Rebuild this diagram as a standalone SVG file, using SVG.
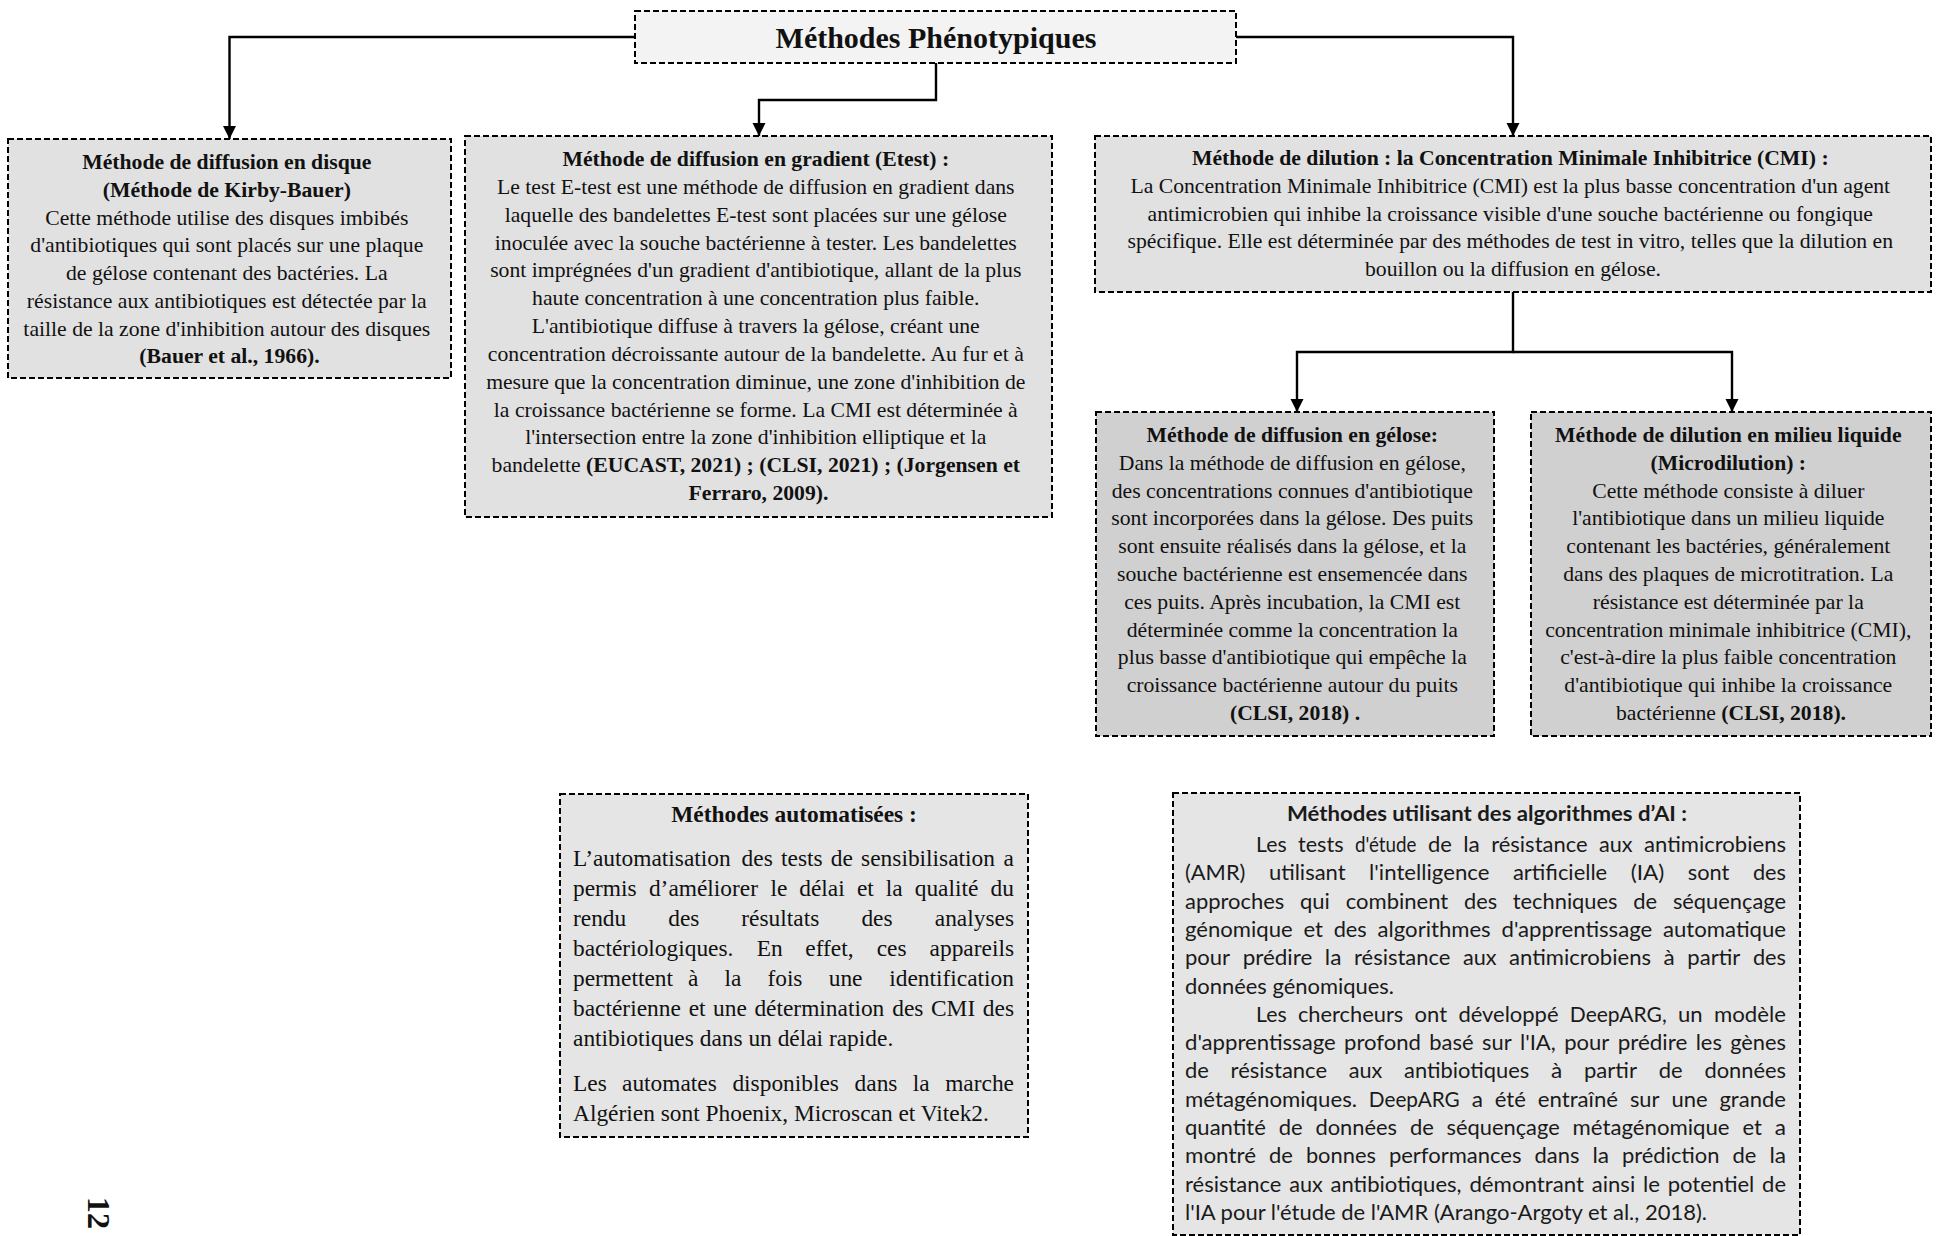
<svg xmlns="http://www.w3.org/2000/svg" width="1938" height="1236" viewBox="0 0 1938 1236">
  <defs>
    <marker id="arrow" markerUnits="userSpaceOnUse" markerWidth="14" markerHeight="14" refX="13" refY="7" orient="auto">
      <path d="M0,0.5 L13,7 L0,13.5 z" fill="#000"/>
    </marker>
    <style>
      .box { stroke: #000; stroke-width: 2; stroke-dasharray: 6 3; }
      .t0 { fill: #f3f3f3; }
      .t1 { fill: #e1e1e1; }
      .t2 { fill: #d0d0d0; }
      .t3 { fill: #e5e5e5; }
      .link { fill: none; stroke: #000; stroke-width: 2.4; }
      .serif { font-family: "Liberation Serif", "Times New Roman", serif; font-size: 21.7px; fill: #111; }
      .auto { font-size: 23.4px; }
      .sans { font-family: Lato, "Open Sans", sans-serif; font-size: 21.2px; fill: #1a1a1a; }
      .b { font-weight: bold; }
      .mid { text-anchor: middle; }
      .end { text-anchor: end; }
    </style>
  </defs>

  <rect width="1938" height="1236" fill="#fff"/>

  <!-- connectors -->
  <g id="connectors">
    <path class="link" d="M634,37 H229.5 V139" marker-end="url(#arrow)"/>
    <path class="link" d="M936,63 V100 H759 V136" marker-end="url(#arrow)"/>
    <path class="link" d="M1236,37 H1513 V136" marker-end="url(#arrow)"/>
    <path class="link" d="M1513,292 V352 H1297 V412" marker-end="url(#arrow)"/>
    <path class="link" d="M1513,352 H1732 V412" marker-end="url(#arrow)"/>
  </g>

  <!-- root -->
  <g id="root">
    <rect class="box t0" x="635" y="11" width="601" height="52"/>
    <text class="serif b mid" x="936" y="48" style="font-size:30px">Méthodes Phénotypiques</text>
  </g>

  <!-- disk diffusion -->
  <g id="disque">
    <rect class="box t1" x="8" y="139" width="443" height="239"/>
    <text class="serif mid" x="229.5">
      <tspan class="b" x="229.5" y="169">Méthode de diffusion en disque</tspan>
      <tspan class="b" x="229.5" y="196.8">(Méthode de Kirby-Bauer)</tspan>
      <tspan x="229.5" y="224.6">Cette méthode utilise des disques imbibés</tspan>
      <tspan x="229.5" y="252.4">d'antibiotiques qui sont placés sur une plaque</tspan>
      <tspan x="229.5" y="280.2">de gélose contenant des bactéries. La</tspan>
      <tspan x="229.5" y="308">résistance aux antibiotiques est détectée par la</tspan>
      <tspan x="229.5" y="335.6">taille de la zone d'inhibition autour des disques</tspan>
      <tspan class="b" x="229.5" y="363.2">(Bauer et al., 1966).</tspan>
    </text>
  </g>

  <!-- gradient diffusion -->
  <g id="etest">
    <rect class="box t1" x="465" y="136" width="587" height="381"/>
    <text class="serif mid">
      <tspan class="b" x="758.5" y="166">Méthode de diffusion en gradient (Etest) :</tspan>
      <tspan x="758.5" y="193.8">Le test E-test est une méthode de diffusion en gradient dans</tspan>
      <tspan x="758.5" y="221.7">laquelle des bandelettes E-test sont placées sur une gélose</tspan>
      <tspan x="758.5" y="249.5">inoculée avec la souche bactérienne à tester. Les bandelettes</tspan>
      <tspan x="758.5" y="277.3">sont imprégnées d'un gradient d'antibiotique, allant de la plus</tspan>
      <tspan x="758.5" y="305.2">haute concentration à une concentration plus faible.</tspan>
      <tspan x="758.5" y="333">L'antibiotique diffuse à travers la gélose, créant une</tspan>
      <tspan x="758.5" y="360.8">concentration décroissante autour de la bandelette. Au fur et à</tspan>
      <tspan x="758.5" y="388.6">mesure que la concentration diminue, une zone d'inhibition de</tspan>
      <tspan x="758.5" y="416.5">la croissance bactérienne se forme. La CMI est déterminée à</tspan>
      <tspan x="758.5" y="444.3">l'intersection entre la zone d'inhibition elliptique et la</tspan>
      <tspan x="758.5" y="472.1">bandelette <tspan class="b">(EUCAST, 2021) ; (CLSI, 2021) ; (Jorgensen et</tspan></tspan>
      <tspan class="b" x="758.5" y="500">Ferraro, 2009).</tspan>
    </text>
  </g>

  <!-- dilution / CMI -->
  <g id="cmi">
    <rect class="box t1" x="1095" y="136" width="836" height="156"/>
    <text class="serif mid">
      <tspan class="b" x="1513" y="165">Méthode de dilution : la Concentration Minimale Inhibitrice (CMI) :</tspan>
      <tspan x="1513" y="192.8">La Concentration Minimale Inhibitrice (CMI) est la plus basse concentration d'un agent</tspan>
      <tspan x="1513" y="220.6">antimicrobien qui inhibe la croissance visible d'une souche bactérienne ou fongique</tspan>
      <tspan x="1513" y="248.4">spécifique. Elle est déterminée par des méthodes de test in vitro, telles que la dilution en</tspan>
      <tspan x="1513" y="276.2">bouillon ou la diffusion en gélose.</tspan>
    </text>
  </g>

  <!-- agar diffusion -->
  <g id="gelose">
    <rect class="box t2" x="1096" y="412" width="398" height="324"/>
    <text class="serif mid">
      <tspan class="b" x="1295" y="442">Méthode de diffusion en gélose:</tspan>
      <tspan x="1295" y="469.8">Dans la méthode de diffusion en gélose,</tspan>
      <tspan x="1295" y="497.6">des concentrations connues d'antibiotique</tspan>
      <tspan x="1295" y="525.4">sont incorporées dans la gélose. Des puits</tspan>
      <tspan x="1295" y="553.2">sont ensuite réalisés dans la gélose, et la</tspan>
      <tspan x="1295" y="581">souche bactérienne est ensemencée dans</tspan>
      <tspan x="1295" y="608.8">ces puits. Après incubation, la CMI est</tspan>
      <tspan x="1295" y="636.6">déterminée comme la concentration la</tspan>
      <tspan x="1295" y="664.4">plus basse d'antibiotique qui empêche la</tspan>
      <tspan x="1295" y="692.2">croissance bactérienne autour du puits</tspan>
      <tspan class="b" x="1295" y="720">(CLSI, 2018) .</tspan>
    </text>
  </g>

  <!-- broth microdilution -->
  <g id="microdilution">
    <rect class="box t2" x="1531" y="412" width="400" height="324"/>
    <text class="serif mid">
      <tspan class="b" x="1731" y="442">Méthode de dilution en milieu liquide</tspan>
      <tspan class="b" x="1731" y="469.8">(Microdilution) :</tspan>
      <tspan x="1731" y="497.6">Cette méthode consiste à diluer</tspan>
      <tspan x="1731" y="525.4">l'antibiotique dans un milieu liquide</tspan>
      <tspan x="1731" y="553.2">contenant les bactéries, généralement</tspan>
      <tspan x="1731" y="581">dans des plaques de microtitration. La</tspan>
      <tspan x="1731" y="608.8">résistance est déterminée par la</tspan>
      <tspan x="1731" y="636.6">concentration minimale inhibitrice (CMI),</tspan>
      <tspan x="1731" y="664.4">c'est-à-dire la plus faible concentration</tspan>
      <tspan x="1731" y="692.2">d'antibiotique qui inhibe la croissance</tspan>
      <tspan x="1731" y="720">bactérienne <tspan class="b">(CLSI, 2018).</tspan></tspan>
    </text>
  </g>

  <!-- automated methods (justified paragraph, words placed one by one) -->
  <g id="automatisees">
    <rect class="box t3" x="560" y="794" width="468" height="343"/>
    <text class="serif auto b mid" x="794" y="822">Méthodes automatisées :</text>
    <g class="serif auto">
      <text y="866"><tspan x="573">L’automatisation</tspan><tspan x="741.6">des</tspan><tspan x="781">tests</tspan><tspan x="830.8">de</tspan><tspan x="861.1">sensibilisation</tspan><tspan class="end" x="1014">a</tspan></text>
      <text y="896"><tspan x="573">permis</tspan><tspan x="648.9">d’améliorer</tspan><tspan x="770.4">le</tspan><tspan x="799.3">délai</tspan><tspan x="856.9">et</tspan><tspan x="885.8">la</tspan><tspan x="914.7">qualité</tspan><tspan class="end" x="1014">du</tspan></text>
      <text y="926"><tspan x="573">rendu</tspan><tspan x="668.3">des</tspan><tspan x="741.3">résultats</tspan><tspan x="861.4">des</tspan><tspan class="end" x="1014">analyses</tspan></text>
      <text y="956"><tspan x="573">bactériologiques.</tspan><tspan x="756.7">En</tspan><tspan x="805.3">effet,</tspan><tspan x="876.7">ces</tspan><tspan class="end" x="1014">appareils</tspan></text>
      <text y="986"><tspan x="573">permettent</tspan><tspan x="687.9">à</tspan><tspan x="724.4">la</tspan><tspan x="767.4">fois</tspan><tspan x="828.7">une</tspan><tspan class="end" x="1014">identification</tspan></text>
      <text y="1016"><tspan x="573">bactérienne</tspan><tspan x="688.7">et</tspan><tspan x="713.1">une</tspan><tspan x="754.4">détermination</tspan><tspan x="892.3">des</tspan><tspan x="931">CMI</tspan><tspan class="end" x="1014">des</tspan></text>
      <text x="573" y="1046">antibiotiques dans un délai rapide.</text>
      <text y="1091"><tspan x="573">Les</tspan><tspan x="622">automates</tspan><tspan x="732.4">disponibles</tspan><tspan x="854.6">dans</tspan><tspan x="912.8">la</tspan><tspan class="end" x="1014">marche</tspan></text>
      <text x="573" y="1121">Algérien sont Phoenix, Microscan et Vitek2.</text>
    </g>
  </g>

  <!-- AI-based methods (justified paragraph; each word is given its set width) -->
  <g id="algorithmes-ia">
    <rect class="box t3" x="1173" y="793" width="627" height="442"/>
    <text class="sans b mid" x="1487" y="821" textLength="400" lengthAdjust="spacingAndGlyphs">Méthodes utilisant des algorithmes d’AI :</text>
    <g class="sans" lengthAdjust="spacingAndGlyphs">
      <text y="852"><tspan x="1256" textLength="30.6" lengthAdjust="spacingAndGlyphs">Les</tspan><tspan x="1298" textLength="45.6" lengthAdjust="spacingAndGlyphs">tests</tspan><tspan x="1355" textLength="61.5" lengthAdjust="spacingAndGlyphs">d'étude</tspan><tspan x="1427.9" textLength="23.9" lengthAdjust="spacingAndGlyphs">de</tspan><tspan x="1463.2" textLength="16.6" lengthAdjust="spacingAndGlyphs">la</tspan><tspan x="1491.2" textLength="96.4" lengthAdjust="spacingAndGlyphs">résistance</tspan><tspan x="1599" textLength="33.6" lengthAdjust="spacingAndGlyphs">aux</tspan><tspan x="1644.1" textLength="141.9" lengthAdjust="spacingAndGlyphs">antimicrobiens</tspan></text>
      <text y="880.3"><tspan x="1185" textLength="60.4" lengthAdjust="spacingAndGlyphs">(AMR)</tspan><tspan x="1268.9" textLength="76.7" lengthAdjust="spacingAndGlyphs">utilisant</tspan><tspan x="1369.1" textLength="120.3" lengthAdjust="spacingAndGlyphs">l'intelligence</tspan><tspan x="1512.9" textLength="94.3" lengthAdjust="spacingAndGlyphs">artificielle</tspan><tspan x="1630.7" textLength="33.6" lengthAdjust="spacingAndGlyphs">(IA)</tspan><tspan x="1687.8" textLength="41.6" lengthAdjust="spacingAndGlyphs">sont</tspan><tspan x="1752.9" textLength="33.1" lengthAdjust="spacingAndGlyphs">des</tspan></text>
      <text y="908.6"><tspan x="1185" textLength="99.3" lengthAdjust="spacingAndGlyphs">approches</tspan><tspan x="1300" textLength="29.9" lengthAdjust="spacingAndGlyphs">qui</tspan><tspan x="1345.7" textLength="102.6" lengthAdjust="spacingAndGlyphs">combinent</tspan><tspan x="1464" textLength="33.1" lengthAdjust="spacingAndGlyphs">des</tspan><tspan x="1512.8" textLength="104.7" lengthAdjust="spacingAndGlyphs">techniques</tspan><tspan x="1633.3" textLength="23.9" lengthAdjust="spacingAndGlyphs">de</tspan><tspan x="1672.9" textLength="113.1" lengthAdjust="spacingAndGlyphs">séquençage</tspan></text>
      <text y="936.9"><tspan x="1185" textLength="107.6" lengthAdjust="spacingAndGlyphs">génomique</tspan><tspan x="1303.4" textLength="19.5" lengthAdjust="spacingAndGlyphs">et</tspan><tspan x="1333.7" textLength="33.1" lengthAdjust="spacingAndGlyphs">des</tspan><tspan x="1377.6" textLength="113.1" lengthAdjust="spacingAndGlyphs">algorithmes</tspan><tspan x="1501.5" textLength="150.7" lengthAdjust="spacingAndGlyphs">d'apprentissage</tspan><tspan x="1663" textLength="123" lengthAdjust="spacingAndGlyphs">automatique</tspan></text>
      <text y="965.2"><tspan x="1185" textLength="45.1" lengthAdjust="spacingAndGlyphs">pour</tspan><tspan x="1242.7" textLength="69.6" lengthAdjust="spacingAndGlyphs">prédire</tspan><tspan x="1324.8" textLength="16.6" lengthAdjust="spacingAndGlyphs">la</tspan><tspan x="1354" textLength="96.4" lengthAdjust="spacingAndGlyphs">résistance</tspan><tspan x="1462.9" textLength="33.6" lengthAdjust="spacingAndGlyphs">aux</tspan><tspan x="1509.1" textLength="141.9" lengthAdjust="spacingAndGlyphs">antimicrobiens</tspan><tspan x="1663.6" textLength="11.2" lengthAdjust="spacingAndGlyphs">à</tspan><tspan x="1687.3" textLength="53" lengthAdjust="spacingAndGlyphs">partir</tspan><tspan x="1752.9" textLength="33.1" lengthAdjust="spacingAndGlyphs">des</tspan></text>
      <text x="1185" y="993.5" textLength="209" lengthAdjust="spacingAndGlyphs">données génomiques.</text>
      <text y="1021.8"><tspan x="1256" textLength="30.6" lengthAdjust="spacingAndGlyphs">Les</tspan><tspan x="1297.9" textLength="105.4" lengthAdjust="spacingAndGlyphs">chercheurs</tspan><tspan x="1414.6" textLength="32.5" lengthAdjust="spacingAndGlyphs">ont</tspan><tspan x="1458.4" textLength="100.1" lengthAdjust="spacingAndGlyphs">développé</tspan><tspan x="1569.8" textLength="96.9" lengthAdjust="spacingAndGlyphs">DeepARG,</tspan><tspan x="1678" textLength="24.6" lengthAdjust="spacingAndGlyphs">un</tspan><tspan x="1714" textLength="72" lengthAdjust="spacingAndGlyphs">modèle</tspan></text>
      <text y="1050.1"><tspan x="1185" textLength="150.7" lengthAdjust="spacingAndGlyphs">d'apprentissage</tspan><tspan x="1344.1" textLength="76.8" lengthAdjust="spacingAndGlyphs">profond</tspan><tspan x="1429.3" textLength="44.3" lengthAdjust="spacingAndGlyphs">basé</tspan><tspan x="1482" textLength="29.6" lengthAdjust="spacingAndGlyphs">sur</tspan><tspan x="1520" textLength="35.8" lengthAdjust="spacingAndGlyphs">l'IA,</tspan><tspan x="1564.2" textLength="45.1" lengthAdjust="spacingAndGlyphs">pour</tspan><tspan x="1617.7" textLength="69.6" lengthAdjust="spacingAndGlyphs">prédire</tspan><tspan x="1695.7" textLength="26.2" lengthAdjust="spacingAndGlyphs">les</tspan><tspan x="1730.2" textLength="55.8" lengthAdjust="spacingAndGlyphs">gènes</tspan></text>
      <text y="1078.4"><tspan x="1185" textLength="23.9" lengthAdjust="spacingAndGlyphs">de</tspan><tspan x="1230.6" textLength="96.4" lengthAdjust="spacingAndGlyphs">résistance</tspan><tspan x="1348.8" textLength="33.6" lengthAdjust="spacingAndGlyphs">aux</tspan><tspan x="1404.1" textLength="125.2" lengthAdjust="spacingAndGlyphs">antibiotiques</tspan><tspan x="1551.1" textLength="11.2" lengthAdjust="spacingAndGlyphs">à</tspan><tspan x="1584" textLength="53" lengthAdjust="spacingAndGlyphs">partir</tspan><tspan x="1658.8" textLength="23.9" lengthAdjust="spacingAndGlyphs">de</tspan><tspan x="1704.4" textLength="81.6" lengthAdjust="spacingAndGlyphs">données</tspan></text>
      <text y="1106.7"><tspan x="1185" textLength="172" lengthAdjust="spacingAndGlyphs">métagénomiques.</tspan><tspan x="1368.8" textLength="91" lengthAdjust="spacingAndGlyphs">DeepARG</tspan><tspan x="1471.7" textLength="11.2" lengthAdjust="spacingAndGlyphs">a</tspan><tspan x="1494.7" textLength="31.1" lengthAdjust="spacingAndGlyphs">été</tspan><tspan x="1537.7" textLength="80.4" lengthAdjust="spacingAndGlyphs">entraîné</tspan><tspan x="1629.9" textLength="29.6" lengthAdjust="spacingAndGlyphs">sur</tspan><tspan x="1671.4" textLength="36.2" lengthAdjust="spacingAndGlyphs">une</tspan><tspan x="1719.4" textLength="66.6" lengthAdjust="spacingAndGlyphs">grande</tspan></text>
      <text y="1135"><tspan x="1185" textLength="80.8" lengthAdjust="spacingAndGlyphs">quantité</tspan><tspan x="1278.7" textLength="23.9" lengthAdjust="spacingAndGlyphs">de</tspan><tspan x="1315.4" textLength="81.6" lengthAdjust="spacingAndGlyphs">données</tspan><tspan x="1409.9" textLength="23.9" lengthAdjust="spacingAndGlyphs">de</tspan><tspan x="1446.6" textLength="113.1" lengthAdjust="spacingAndGlyphs">séquençage</tspan><tspan x="1572.6" textLength="157" lengthAdjust="spacingAndGlyphs">métagénomique</tspan><tspan x="1742.4" textLength="19.5" lengthAdjust="spacingAndGlyphs">et</tspan><tspan x="1774.8" textLength="11.2" lengthAdjust="spacingAndGlyphs">a</tspan></text>
      <text y="1163.3"><tspan x="1185" textLength="71" lengthAdjust="spacingAndGlyphs">montré</tspan><tspan x="1269" textLength="23.9" lengthAdjust="spacingAndGlyphs">de</tspan><tspan x="1305.9" textLength="70" lengthAdjust="spacingAndGlyphs">bonnes</tspan><tspan x="1388.9" textLength="132.6" lengthAdjust="spacingAndGlyphs">performances</tspan><tspan x="1534.5" textLength="44.9" lengthAdjust="spacingAndGlyphs">dans</tspan><tspan x="1592.4" textLength="16.6" lengthAdjust="spacingAndGlyphs">la</tspan><tspan x="1622" textLength="97.5" lengthAdjust="spacingAndGlyphs">prédiction</tspan><tspan x="1732.5" textLength="23.9" lengthAdjust="spacingAndGlyphs">de</tspan><tspan x="1769.4" textLength="16.6" lengthAdjust="spacingAndGlyphs">la</tspan></text>
      <text y="1191.6"><tspan x="1185" textLength="96.4" lengthAdjust="spacingAndGlyphs">résistance</tspan><tspan x="1289.2" textLength="33.6" lengthAdjust="spacingAndGlyphs">aux</tspan><tspan x="1330.5" textLength="131.1" lengthAdjust="spacingAndGlyphs">antibiotiques,</tspan><tspan x="1469.4" textLength="114.6" lengthAdjust="spacingAndGlyphs">démontrant</tspan><tspan x="1591.8" textLength="43.4" lengthAdjust="spacingAndGlyphs">ainsi</tspan><tspan x="1642.9" textLength="17" lengthAdjust="spacingAndGlyphs">le</tspan><tspan x="1667.7" textLength="86.6" lengthAdjust="spacingAndGlyphs">potentiel</tspan><tspan x="1762.1" textLength="23.9" lengthAdjust="spacingAndGlyphs">de</tspan></text>
      <text x="1185" y="1219.9" textLength="522" lengthAdjust="spacingAndGlyphs">l'IA pour l'étude de l'AMR (Arango-Argoty et al., 2018).</text>
    </g>
  </g>

  <!-- page number, printed sideways -->
  <text class="serif b mid" transform="translate(88,1213) rotate(90)" x="0" y="0" style="font-size:32px">12</text>
</svg>
